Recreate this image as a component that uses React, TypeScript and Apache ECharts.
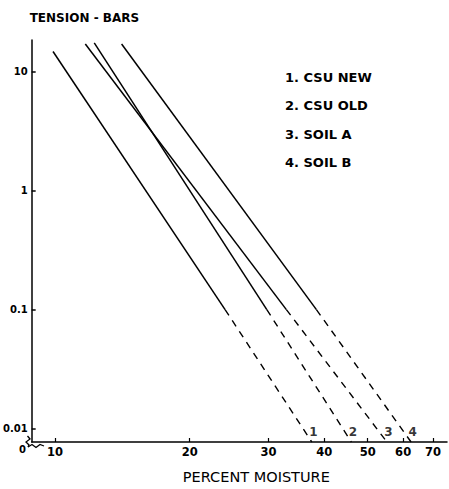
import React, { useEffect, useRef } from "react";
import * as echarts from "echarts";

// Soil water retention lines (log-log): percent moisture vs tension (bars)
const soilNames = ["1. CSU NEW", "2. CSU OLD", "3. SOIL A", "4. SOIL B"];
const lineNumbers = ["1", "2", "3", "4"];
// upper end of each measured (solid) line
const moistureTop = [9.9, 12.24, 11.69, 14.09];
const tensionTop = [14.8, 17.5, 17.1, 17.1];
// where solid line turns into extrapolated (dashed) line
const tensionBreak = 0.1;
const moistureAtBreak = [24.0, 29.75, 32.9, 38.4];
// lower end of extrapolated line
const tensionBottom = 0.0077;
const moistureBottom = [37.5, 45.97, 55.2, 62.5];

const xTicks = [10, 20, 30, 40, 50, 60, 70];
const yTicks = [0.01, 0.1, 1, 10];
const yTickLabels = ["0.01", "0.1", "1", "10"];

const xMin = 8.87;
const xMax = 75.2;
const yMin = 0.0077;
const yMax = 18.5;

export default function App() {
  const ref = useRef<HTMLDivElement>(null);
  useEffect(() => {
    document.body.style.margin = "0";
    const chart = echarts.init(ref.current!, null, { renderer: "svg" });
    const font = "DejaVu Sans";
    const series: any[] = [];
    soilNames.forEach((name, i) => {
      series.push({
        type: "line",
        name,
        data: [
          [moistureTop[i], tensionTop[i]],
          [moistureAtBreak[i], tensionBreak],
        ],
        symbol: "none",
        silent: true,
        lineStyle: { color: "#000", width: 1.5 },
        itemStyle: { color: "#000" },
      });
      series.push({
        type: "line",
        name,
        data: [
          [moistureAtBreak[i], tensionBreak],
          [moistureBottom[i], tensionBottom],
        ],
        symbol: "none",
        silent: true,
        lineStyle: { color: "#000", width: 1.4, type: [7, 6] },
        itemStyle: { color: "#000" },
      });
    });
    series.push({
      type: "scatter",
      name: "numbers",
      data: moistureBottom.map((m, i) => ({
        value: [m, tensionBottom],
        label: { formatter: lineNumbers[i] },
      })),
      symbolSize: 0,
      silent: true,
      clip: false,
      label: {
        show: true,
        position: "top",
        distance: 4,
        offset: [1.5, 0],
        color: "#000",
        fontFamily: font,
        fontWeight: "bold",
        fontSize: 12,
      },
    });

    const yLabel = (v: number) => {
      const idx = yTicks.findIndex((t) => Math.abs(Math.log10(t) - Math.log10(v)) < 1e-6);
      return idx >= 0 ? yTickLabels[idx] : "";
    };

    chart.setOption({
      animation: false,
      backgroundColor: "#fff",
      grid: { left: 27.5, right: 2, top: 40, bottom: 43, containLabel: false },
      legend: {
        data: soilNames,
        orient: "vertical",
        left: 275,
        top: 65,
        icon: "none",
        itemWidth: 0,
        itemHeight: 14,
        itemGap: 15,
        selectedMode: false,
        textStyle: { fontFamily: font, fontWeight: "bold", fontSize: 13, color: "#000" },
      },
      xAxis: {
        type: "log",
        logBase: 10,
        min: xMin,
        max: xMax,
        name: "PERCENT MOISTURE",
        nameLocation: "middle",
        nameGap: 27,
        nameTextStyle: { fontFamily: font, fontSize: 14.5, color: "#000", padding: [0, 0, 0, 34] },
        axisLine: { lineStyle: { color: "#000", width: 1.5 } },
        axisTick: { inside: true, length: 4, customValues: xTicks, lineStyle: { color: "#000", width: 1.2 } },
        axisLabel: {
          customValues: xTicks,
          margin: 4,
          fontFamily: font,
          fontWeight: "bold",
          fontSize: 11.5,
          color: "#000",
          formatter: (v: number) => String(Math.round(v)),
        },
        splitLine: { show: false },
        minorTick: { show: false },
      },
      yAxis: {
        type: "log",
        logBase: 10,
        min: yMin,
        max: yMax,
        name: "TENSION - BARS",
        nameLocation: "end",
        nameGap: 16,
        nameTextStyle: { fontFamily: font, fontWeight: "bold", fontSize: 12, color: "#000", align: "left", padding: [0, 0, 0, -2] },
        axisLine: { lineStyle: { color: "#000", width: 1.5 } },
        axisTick: { inside: true, length: 4, customValues: yTicks, lineStyle: { color: "#000", width: 1.5 } },
        axisLabel: {
          customValues: yTicks,
          margin: 4,
          fontFamily: font,
          fontWeight: "bold",
          fontSize: 10,
          color: "#000",
          formatter: yLabel,
        },
        splitLine: { show: false },
      },
      graphic: [
        { type: "rect", shape: { x: 24, y: 437, width: 7, height: 9 }, style: { fill: "#fff" }, z: 100 },
        { type: "rect", shape: { x: 27, y: 443, width: 17, height: 6 }, style: { fill: "#fff" }, z: 100 },
        {
          type: "polyline",
          shape: { points: [[27.5, 436], [30, 439], [26, 442], [29, 445], [28, 447]] },
          style: { stroke: "#000", lineWidth: 1.3, fill: null },
          z: 101,
        },
        {
          type: "polyline",
          shape: { points: [[28, 447], [32, 444.5], [36, 447.5], [40, 444.5], [44, 446]] },
          style: { stroke: "#000", lineWidth: 1.3, fill: null },
          z: 101,
        },
        {
          type: "text",
          x: 19,
          y: 444,
          style: { text: "0", fontFamily: font, fontWeight: "bold", fontSize: 10, fill: "#000" },
          z: 101,
        },
      ],
      series,
    });
    return () => chart.dispose();
  }, []);
  return <div ref={ref} style={{ width: 449, height: 489 }} />;
}
